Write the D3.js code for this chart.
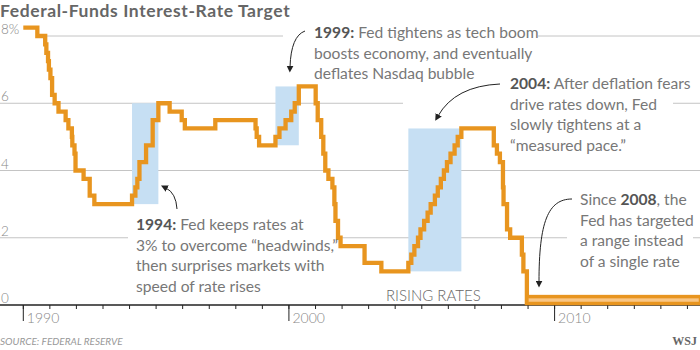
<!DOCTYPE html>
<html>
<head>
<meta charset="utf-8">
<script src="https://cdn.jsdelivr.net/npm/d3@7"></script>
<style>
  body { margin: 0; background: #fff; }
  svg { display: block; font-family: Lato, "Open Sans", sans-serif; }
</style>
</head>
<body>
<div id="chart"></div>
<script>
// --- data ---
const changeDates = ["1990-01-01","1990-07-13","1990-10-29","1990-11-14","1990-12-07","1990-12-19",
  "1991-01-09","1991-02-01","1991-03-08","1991-04-30","1991-08-06","1991-09-13","1991-10-31","1991-11-06",
  "1991-12-06","1991-12-20","1992-04-09","1992-07-02","1992-09-04","1994-02-04","1994-03-22","1994-04-18",
  "1994-05-17","1994-08-16","1994-11-15","1995-02-01","1995-07-06","1995-12-19","1996-01-31","1997-03-25",
  "1998-09-29","1998-10-15","1998-11-17","1999-06-30","1999-08-24","1999-11-16","2000-02-02","2000-03-21",
  "2000-05-16","2001-01-03","2001-01-31","2001-03-20","2001-04-18","2001-05-15","2001-06-27","2001-08-21",
  "2001-09-17","2001-10-02","2001-11-06","2001-12-11","2002-11-06","2003-06-25","2004-06-30","2004-08-10",
  "2004-09-21","2004-11-10","2004-12-14","2005-02-02","2005-03-22","2005-05-03","2005-06-30","2005-08-09",
  "2005-09-20","2005-11-01","2005-12-13","2006-01-31","2006-03-28","2006-05-10","2006-06-29","2007-09-18",
  "2007-10-31","2007-12-11","2008-01-22","2008-01-30","2008-03-18","2008-04-30","2008-10-08","2008-10-29",
  "2008-12-16"];
const targetRates = [8.25,8.00,7.75,7.50,7.25,7.00,
  6.75,6.25,6.00,5.75,5.50,5.25,5.00,4.75,
  4.50,4.00,3.75,3.25,3.00,3.25,3.50,3.75,
  4.25,4.75,5.50,6.00,5.75,5.50,5.25,5.50,
  5.25,5.00,4.75,5.00,5.25,5.50,5.75,6.00,
  6.50,6.00,5.50,5.00,4.50,4.00,3.75,3.50,
  3.00,2.50,2.00,1.75,1.25,1.00,1.25,1.50,
  1.75,2.00,2.25,2.50,2.75,3.00,3.25,3.50,
  3.75,4.00,4.25,4.50,4.75,5.00,5.25,4.75,
  4.50,4.25,3.50,3.00,2.25,2.00,1.50,1.00,
  0];
const rangeStart = "2008-12-16";
const rangeEnd = "2015-06-30";
const rangeLow = 0, rangeHigh = 0.25;

const risingStarts = ["1994-02-04","1999-06-30","2004-06-30"];
const risingEnds   = ["1995-02-01","2000-05-16","2006-06-29"];
const risingLows   = [3, 4.75, 1];
const risingHighs  = [6, 6.5, 5.25];

const yTicks = [0, 2, 4, 6, 8];
const yTickLabels = ["0", "2", "4", "6", "8%"];
const majorYears = [1990, 2000, 2010];
const minorYears = d3.range(1990, 2016);

const W = 700, H = 350;
const parse = d3.timeParse("%Y-%m-%d");
const x = d3.scaleTime().domain([new Date(1990,0,1), new Date(2010,0,1)]).range([23.3, 554.6]);
const y = d3.scaleLinear().domain([0, 8]).range([305, 36]);

const orange = "#e8951f", gridCol = "#c4c4c4", textCol = "#777", boldCol = "#555";

const svg = d3.select("#chart").append("svg").attr("width", W).attr("height", H);

// title
svg.append("text").attr("x", 0).attr("y", 17.3)
  .attr("fill", "#666").style("font-weight", 700).style("font-size", "17.5px")
  .style("letter-spacing", "0.6px")
  .text("Federal-Funds Interest-Rate Target");

// gridlines
const grid = svg.append("g");
yTicks.filter(d => d > 0).forEach(d => {
  grid.append("line").attr("x1", d === 8 ? 37 : 0).attr("x2", W)
    .attr("y1", y(d)).attr("y2", y(d)).attr("stroke", gridCol).attr("stroke-width", 1);
});
grid.selectAll("text").data(yTicks).join("text")
  .attr("x", 1).attr("y", d => y(d) - 1.8)
  .attr("fill", "#888").style("font-size", "13.5px").style("font-weight", 300)
  .text((d, i) => yTickLabels[i]);

// white knockouts behind annotation blocks
const knockouts = [[283, 20, 255, 64], [403, 70, 270, 88], [128, 212, 212, 84], [567, 188, 126, 84]];
svg.selectAll("rect.ko").data(knockouts).join("rect").attr("class", "ko")
  .attr("x", d => d[0]).attr("y", d => d[1]).attr("width", d => d[2]).attr("height", d => d[3])
  .attr("fill", "#fff");

// rising-rate shading
svg.selectAll("rect.rise").data(risingStarts).join("rect").attr("class", "rise")
  .attr("x", (d, i) => x(parse(d)))
  .attr("width", (d, i) => x(parse(risingEnds[i])) - x(parse(d)))
  .attr("y", (d, i) => y(risingHighs[i]))
  .attr("height", (d, i) => y(risingLows[i]) - y(risingHighs[i]))
  .attr("fill", "#c6dff3");

svg.append("text").attr("x", 386).attr("y", 300.5)
  .attr("fill", "#666").style("font-size", "15px").style("font-weight", 300)
  .text("RISING RATES");

// axis
svg.append("line").attr("x1", 0).attr("x2", W).attr("y1", y(0)).attr("y2", y(0))
  .attr("stroke", "#222").attr("stroke-width", 1.5);
svg.selectAll("line.minor").data(minorYears).join("line").attr("class", "minor")
  .attr("x1", d => x(new Date(d,0,1))).attr("x2", d => x(new Date(d,0,1)))
  .attr("y1", y(0)).attr("y2", y(0) + 4).attr("stroke", "#222").attr("stroke-width", 1);
svg.selectAll("line.major").data(majorYears).join("line").attr("class", "major")
  .attr("x1", d => x(new Date(d,0,1))).attr("x2", d => x(new Date(d,0,1)))
  .attr("y1", y(0)).attr("y2", y(0) + 16).attr("stroke", "#222").attr("stroke-width", 1);
svg.selectAll("text.yr").data(majorYears).join("text").attr("class", "yr")
  .attr("x", d => x(new Date(d,0,1)) + 3.5).attr("y", 323)
  .attr("fill", "#888").style("font-size", "14px").style("font-weight", 300)
  .text(d => d);

// rate line
const pts = changeDates.map((d, i) => [parse(d), targetRates[i]]);
const line = d3.line().x(d => x(d[0])).y(d => y(d[1])).curve(d3.curveStepAfter);
svg.append("path").datum(pts).attr("d", line)
  .attr("fill", "none").attr("stroke", orange).attr("stroke-width", 4.3)
  .attr("stroke-linejoin", "miter");

// target range since 2008
svg.append("rect")
  .attr("x", x(parse(rangeStart))).attr("width", x(parse(rangeEnd)) - x(parse(rangeStart)))
  .attr("y", y(rangeHigh)).attr("height", y(rangeLow) - y(rangeHigh) - 1.5)
  .attr("fill", "#f9c685").attr("stroke", orange).attr("stroke-width", 3.5);

// annotations
const notes = [
  { x: 136, y: 230, lines: [["1994:", " Fed keeps rates at"], ["", "3% to overcome \u201cheadwinds,\u201d"], ["", "then surprises markets with"], ["", "speed of rate rises"]] },
  { x: 314, y: 38, lines: [["1999:", " Fed tightens as tech boom"], ["", "boosts economy, and eventually"], ["", "deflates Nasdaq bubble"]] },
  { x: 510, y: 89, lines: [["2004:", " After deflation fears"], ["", "drive rates down, Fed"], ["", "slowly tightens at a"], ["", "\u201cmeasured pace.\u201d"]] },
  { x: 580, y: 205, lines: [["", "Since ", "2008", ", the"], ["", "Fed has targeted"], ["", "a range instead"], ["", "of a single rate"]] }
];
notes.forEach(n => {
  const t = svg.append("text").attr("x", n.x).attr("y", n.y)
    .style("font-size", "15.6px").attr("fill", textCol);
  n.lines.forEach((ln, i) => {
    ln.forEach((part, j) => {
      if (!part) return;
      const bold = (j === 0) || (j === 2);
      const ts = t.append("tspan").text(part)
        .attr("fill", bold ? boldCol : textCol)
        .style("font-weight", bold ? 700 : 400);
      if (j === 0 || (j === 1 && !ln[0])) ts.attr("x", n.x).attr("dy", i === 0 ? 0 : 20.7);
    });
  });
});

// arrows
svg.append("defs").append("marker").attr("id", "ah")
  .attr("viewBox", "0 0 10 10").attr("refX", 2).attr("refY", 5)
  .attr("markerWidth", 7).attr("markerHeight", 7).attr("orient", "auto")
  .attr("markerUnits", "userSpaceOnUse")
  .append("path").attr("d", "M0,0L10,5L0,10Z").attr("fill", "#222");
const arrows = [
  "M177,209 Q176,193 166,188",
  "M305,31 Q291,36 290,67",
  "M500,84 Q455,86 438,116",
  "M572,199 C548,199 539,222 539,282"
];
svg.selectAll("path.arr").data(arrows).join("path").attr("class", "arr")
  .attr("d", d => d).attr("fill", "none").attr("stroke", "#222").attr("stroke-width", 1)
  .attr("marker-end", "url(#ah)");

// footer
svg.append("text").attr("x", 0).attr("y", 345)
  .attr("fill", "#999").style("font-size", "10px").style("font-style", "italic")
  .text("SOURCE: FEDERAL RESERVE");
svg.append("text").attr("x", 697).attr("y", 345).attr("text-anchor", "end")
  .attr("fill", "#666").style("font-family", "'Liberation Serif', serif").style("font-weight", 700)
  .style("font-size", "12px").text("WSJ");
</script>
</body>
</html>
